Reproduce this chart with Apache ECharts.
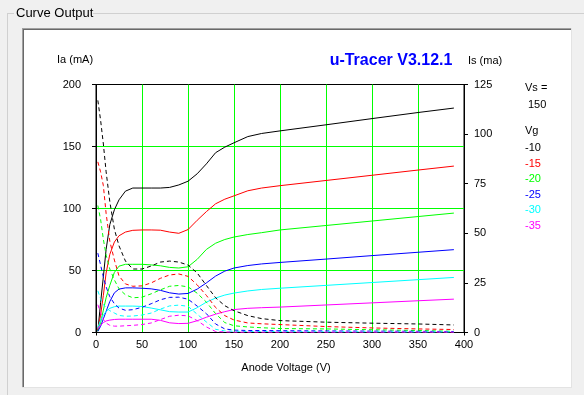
<!DOCTYPE html>
<html><head><meta charset="utf-8">
<script src="https://cdn.jsdelivr.net/npm/echarts@6/dist/echarts.min.js"></script>
<style>html,body{margin:0;padding:0;background:#f0f0f0}#c{width:584px;height:395px}</style>
</head><body><div id="c"></div>
<script>
// Anode voltage sample points (V)
const va = [2,5,8,11,15,20,25,32,40,50,60,70,80,90,100,110,120,130,140,150,165,180,200,250,300,350,389];
// Grid voltages and colours
const vgLabels = ['-10','-15','-20','-25','-30','-35'];
const vgColors = ['#000000','#ff0000','#00ff00','#0000ff','#00ffff','#ff00ff'];
const vsValue = '150';
// Anode current Ia (mA), left axis
const ia_m10 = [1,24,45,67,87,99,107,114,116.5,116.5,116.5,116.5,117,119,122,128,136,145,149.5,153,158,160.5,162.6,167.5,172.5,177.4,181];
const ia_m15 = [2,14,30,48,63,73,78,81,82.4,82.7,82.7,82.5,81,80,83,90.5,97.5,103.8,107.5,110.2,114.3,116.5,118.4,122.6,126.8,131,134.2];
const ia_m20 = [1,8,18,28,38,48.5,53.5,55,55,55,54.5,53.8,52.5,52,53,59,67,72,75,77,79,80.5,82.7,86.3,89.9,93.5,96.3];
const ia_m25 = [1,5,11,17,25,32,35,36,36,35.7,35.2,34,32,31,31.5,35,40,45.5,49.5,52,54,55.3,56.5,59.2,62,64.7,66.8];
const ia_m30 = [4,10,14,17,19.5,20.8,21.3,21.3,21.3,21,19.7,18.3,16.8,16.5,16.5,20,24.5,27.8,30.2,31.8,33.5,34.7,35.7,38,40.3,42.6,44.4];
const ia_m35 = [3,6,8,9.3,10,10.5,10.7,10.7,10.7,10.7,10.7,9.8,7.8,7.2,7.4,9.5,12.3,14.8,16.8,18.5,19.5,20,20.5,22.2,23.9,25.6,26.9];
// Screen current Is (mA), right axis
const is_m10 = [117,107,95,81,66,52,43.7,36,32,32,33.5,35.5,36,35.5,34,30,23.7,17.5,13.5,11,8.5,7,6,5.2,4.7,4.3,3.8];
const is_m15 = [86,81,74,60,46,36.5,28.5,24.5,23.3,23.5,25,27.3,29,29.5,28.3,24,18.7,12.6,8.5,6.3,4.8,4.4,4,3,2.3,1.8,1.5];
const is_m20 = [64,57,47,39,32,26.5,22,19,17.5,17.8,19.5,21.5,23.3,23.7,23,19.8,15.3,9.5,5,3.4,2.8,2.4,2,1.8,1.4,1,0.6];
const is_m25 = [40,34,28,23,18,14.5,12.3,11.2,11.5,12.7,14.5,16.5,17.7,17.8,16.8,13.3,9.5,4.3,1.8,1.2,1,1,0.9,0.8,0.7,0.6,0.5];
const is_m30 = [21,17,14,12.5,11,9.8,8.6,8.2,8.3,8.8,9.8,11.8,13.4,13.8,13.2,9.2,5.3,1.6,0.8,0.6,0.5,0.5,0.5,0.4,0.4,0.3,0.3];
const is_m35 = [14,10,6.5,4.8,3.6,3.2,3.2,3.4,3.6,4,4.8,6.5,8.2,8.7,8.4,6,2.8,0.5,0.3,0.2,0.2,0.2,0.2,0.2,0.2,0.2,0.2];

const iaSets = [ia_m10, ia_m15, ia_m20, ia_m25, ia_m30, ia_m35];
const isSets = [is_m10, is_m15, is_m20, is_m25, is_m30, is_m35];

const FONT = '"Liberation Sans", Arial, sans-serif';
const GREEN = '#00ff00';

const series = [];
iaSets.forEach((arr, i) => {
  series.push({
    type: 'line', name: 'Ia ' + vgLabels[i], yAxisIndex: 0,
    data: va.map((v, j) => [v, arr[j]]),
    showSymbol: false, smooth: false, animation: false,
    lineStyle: { color: vgColors[i], width: 1 }
  });
});
isSets.forEach((arr, i) => {
  series.push({
    type: 'line', name: 'Is ' + vgLabels[i], yAxisIndex: 1,
    data: va.map((v, j) => [v, arr[j]]),
    showSymbol: false, smooth: false, animation: false,
    lineStyle: { color: vgColors[i], width: 1, type: [4, 3] }
  });
});

const txt = (x, y, s, color, opts) => Object.assign({
  type: 'text', x: x, y: y, z: 100, silent: true,
  style: Object.assign({ text: s, fill: color || '#000', font: '11px ' + FONT, textVerticalAlign: 'middle' }, opts || {})
});
const line = (x1, y1, x2, y2, color, z) => ({
  type: 'line', z: z == null ? -10 : z, silent: true,
  shape: { x1: x1, y1: y1, x2: x2, y2: y2 },
  style: { stroke: color, lineWidth: 1 }
});

const GL = 96, GR = 120, GT = 84.5, GB = 62.5;
const W = 584, H = 395;

const graphics = [
  { type: 'rect', z: -20, silent: true, shape: { x: 22, y: 28, width: 550, height: 360 }, style: { fill: '#ffffff' } },
  line(22, 28.5, 572, 28.5, '#a0a0a0'),
  line(23, 29.5, 571, 29.5, '#696969'),
  line(22.5, 28, 22.5, 388, '#a0a0a0'),
  line(23.5, 29, 23.5, 387, '#696969'),
  line(571.5, 28, 571.5, 388, '#e3e3e3'),
  line(22, 387.5, 572, 387.5, '#e3e3e3'),
  line(7, 13.5, 14, 13.5, '#d0d0d0'),
  line(93, 13.5, 584, 13.5, '#d0d0d0'),
  line(7.5, 13, 7.5, 395, '#d0d0d0'),
  line(GL + 0.5, H - GB, GL + 0.5, H - GB + 3, '#000', 50),
  line(W - GR + 0.5, H - GB, W - GR + 0.5, H - GB + 3, '#000', 50),
  txt(16, 13, 'Curve Output', '#000', { font: '13px ' + FONT }),
  txt(391, 61, 'u-Tracer V3.12.1', '#0000ff', { font: 'bold 16px ' + FONT, textAlign: 'center' }),
  txt(57, 60, 'Ia (mA)'),
  txt(468, 61, 'Is (ma)'),
  txt(286, 368, 'Anode Voltage (V)', '#000', { textAlign: 'center' }),
  txt(525, 88, 'Vs ='),
  txt(528, 105, vsValue),
  txt(525, 131, 'Vg')
];
vgLabels.forEach((s, i) => graphics.push(txt(525, 148 + i * 15.6, s, vgColors[i])));

const chart = echarts.init(document.getElementById('c'), null, { renderer: 'canvas' });
chart.setOption({
  backgroundColor: '#f0f0f0',
  animation: false,
  textStyle: { fontFamily: FONT },
  grid: { left: GL, right: GR, top: GT, bottom: GB, containLabel: false, show: true, borderColor: '#000', borderWidth: 1, backgroundColor: 'transparent' },
  xAxis: {
    type: 'value', min: 0, max: 400, interval: 50,
    axisLine: { show: true, lineStyle: { color: '#000', width: 1 } },
    axisTick: { show: false },
    axisLabel: { color: '#000', fontSize: 11, fontFamily: FONT, margin: 7 },
    splitLine: { show: true, showMinLine: false, showMaxLine: false, lineStyle: { color: GREEN, width: 1 } }
  },
  yAxis: [
    {
      type: 'value', min: 0, max: 200, interval: 50, position: 'left',
      axisLine: { show: true, lineStyle: { color: '#000', width: 1 } },
      axisTick: { show: true, length: 4, lineStyle: { color: '#000' } },
      axisLabel: { color: '#000', fontSize: 11, fontFamily: FONT, margin: 15 },
      splitLine: { show: true, showMinLine: false, showMaxLine: false, lineStyle: { color: GREEN, width: 1 } }
    },
    {
      type: 'value', min: 0, max: 125, interval: 25, position: 'right',
      axisLine: { show: true, lineStyle: { color: '#000', width: 1 } },
      axisTick: { show: true, length: 4, lineStyle: { color: '#000' } },
      axisLabel: { color: '#000', fontSize: 11, fontFamily: FONT, margin: 10 },
      splitLine: { show: false }
    }
  ],
  graphic: graphics,
  series: series
});
</script>
</body></html>
